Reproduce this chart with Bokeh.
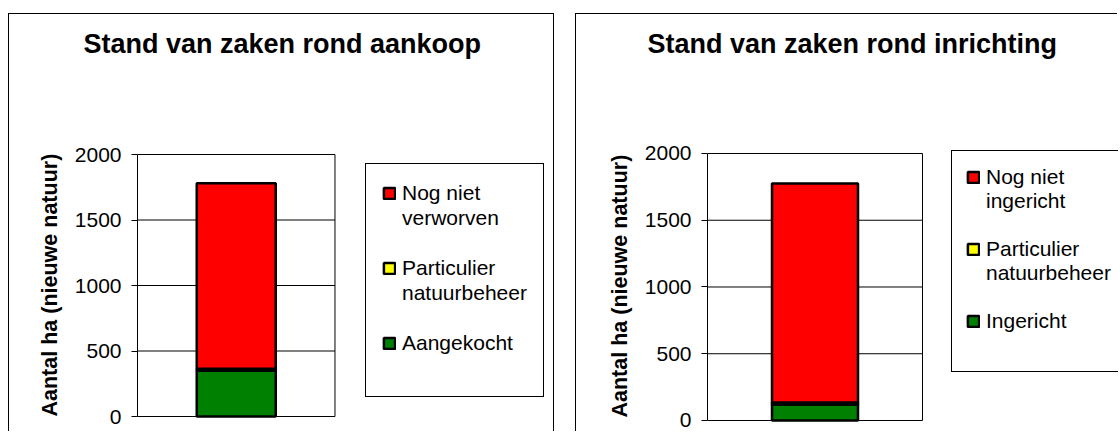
from bokeh.plotting import figure
from bokeh.models import (ColumnDataSource, Range1d, FixedTicker,
                          Legend, LegendItem, Title)
from bokeh.layouts import row
from bokeh.embed import file_html
from bokeh.resources import INLINE

# ---- data -------------------------------------------------------------
category = ["Totaal"]
y_ticks = [0, 500, 1000, 1500, 2000]
y_label = "Aantal ha (nieuwe natuur)"
colors = ["#008000", "#FFFF00", "#FF0000"]          # bottom -> top

title_left = "Stand van zaken rond aankoop"
series_left = ["Aangekocht", "Particulier natuurbeheer", "Nog niet verworven"]
values_left = [350, 15, 1415]
legend_left = ["Nog niet\nverworven", "Particulier\nnatuurbeheer", "Aangekocht"]

title_right = "Stand van zaken rond inrichting"
series_right = ["Ingericht", "Particulier natuurbeheer", "Nog niet ingericht"]
values_right = [120, 15, 1640]
legend_right = ["Nog niet\ningericht", "Particulier\nnatuurbeheer", "Ingericht"]

FONT = "Liberation Sans"


def make_chart(title, series, values, legend_labels, geo):
    keys = ["s%d" % i for i in range(len(series))]
    # one bar per category, centred in its unit slot of the plot area
    data = {"x": [i + 0.5 for i in range(len(category))]}
    for k, v in zip(keys, values):
        data[k] = [v]
    src = ColumnDataSource(data)

    p = figure(x_range=Range1d(0, geo["xend"]),
               y_range=Range1d(geo["y0"], geo["y1"]),
               width=geo["w"], height=geo["h"], output_backend="svg",
               toolbar_location=None, x_axis_location=None,
               min_border_left=geo["l"], min_border_right=0,
               min_border_top=geo["t"], min_border_bottom=geo["b"])
    p.background_fill_color = "white"
    p.border_fill_color = "white"
    p.outline_line_color = None
    p.xgrid.visible = False
    p.ygrid.visible = False

    p.title.text = title
    p.title.align = "left"
    p.title.offset = geo["toff"]
    p.title.text_font = FONT
    p.title.text_font_style = "bold"
    p.title.text_font_size = "27px"
    p.title.text_color = "black"

    # plot-area gridlines (incl. top and bottom edges) and right edge
    n = len(category)
    p.segment(x0=[0] * len(y_ticks), x1=[n] * len(y_ticks), y0=y_ticks,
              y1=y_ticks, line_color="black", line_width=1)
    p.segment(x0=[n], x1=[n], y0=[y_ticks[0]], y1=[y_ticks[-1]],
              line_color="black", line_width=1)

    rs = p.vbar_stack(keys, x="x", width=0.4, source=src,
                      fill_color=colors, line_color="black", line_width=2.5)
    # invisible renderer used for the continuation / spacer rows of the legend
    blank = p.vbar(x=[], top=[], width=0.4, fill_alpha=0, line_alpha=0)

    ax = p.yaxis[0]
    ax.bounds = (y_ticks[0], y_ticks[-1])
    ax.ticker = FixedTicker(ticks=y_ticks)
    ax.major_tick_in = 0
    ax.major_tick_out = 6
    ax.minor_tick_in = 0
    ax.minor_tick_out = 0
    ax.axis_line_color = "black"
    ax.major_tick_line_color = "black"
    ax.major_label_text_font = FONT
    ax.major_label_text_font_size = "21px"
    ax.major_label_text_color = "black"
    ax.major_label_standoff = 10

    # y-axis title, placed along the 0..2000 part of the axis
    p.add_layout(Title(text=y_label, align="left", offset=geo["yoff"],
                       standoff=20, text_font=FONT, text_font_style="bold",
                       text_font_size="21.5px", text_color="black"), "left")

    items = []
    for i, lab in enumerate(legend_labels):
        parts = lab.split("\n")
        items.append(LegendItem(label=parts[0], renderers=[rs[2 - i]]))
        for extra in parts[1:]:
            items.append(LegendItem(label=extra, renderers=[blank]))
        items.append(LegendItem(label=" ", renderers=[blank]))
    leg = Legend(items=items, location=geo["legloc"], margin=0,
                 padding=geo["legpad"], spacing=0,
                 glyph_width=14, glyph_height=14, label_standoff=6,
                 label_height=geo["lh"],
                 label_text_font=FONT, label_text_font_size="21px",
                 label_text_color="black", label_text_line_height=1.0,
                 label_text_baseline="middle",
                 border_line_color="black", border_line_width=1,
                 border_line_alpha=1,
                 background_fill_color="white", background_fill_alpha=1)
    p.add_layout(leg, "center")
    return p


p1 = make_chart(title_left, series_left, values_left, legend_left,
                dict(w=546, h=418, l=128, t=49, b=9,
                     xend=417 / 197, y0=-53.4, y1=2694.66,
                     legloc=(228, 26), legpad=16, lh=25, toff=-54, yoff=7))
p1.styles = {"border-left": "1px solid black", "border-top": "1px solid black",
             "border-right": "1px solid black"}
p1.margin = (13, 0, 0, 8)

p2 = make_chart(title_right, series_right, values_right, legend_right,
                dict(w=542, h=418, l=131, t=49, b=9,
                     xend=411 / 215, y0=-22.5, y1=2674.16,
                     legloc=(244, 51), legpad=14, lh=24, toff=-60, yoff=6))
p2.styles = {"border-left": "1px solid black", "border-top": "1px solid black"}
p2.margin = (13, 0, 0, 21)

layout = row(p1, p2)
open("out.html", "w").write(file_html(layout, INLINE))
